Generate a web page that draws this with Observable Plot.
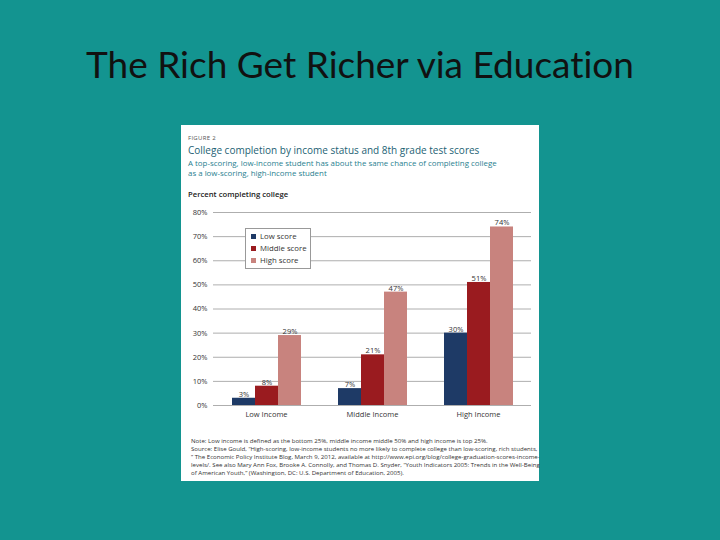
<!DOCTYPE html>
<html>
<head>
<meta charset="utf-8">
<script src="https://cdn.jsdelivr.net/npm/d3@7"></script>
<script src="https://cdn.jsdelivr.net/npm/@observablehq/plot@0.6"></script>
<style>
  html, body { margin: 0; padding: 0; }
  body { width: 720px; height: 540px; background: #139490; position: relative; overflow: hidden; font-family: "Open Sans", sans-serif; }
  .abs { position: absolute; white-space: nowrap; }
  #title { left: 0; width: 720px; text-align: center; top: 42px; font-family: Lato, sans-serif; font-size: 37px; line-height: 44px; color: #111; font-variant-ligatures: none; }
  #card { left: 181px; top: 125px; width: 358px; height: 356px; background: #fff; }
  .t { position: absolute; white-space: nowrap; line-height: 1; }
  #fig { left: 7px; top: 10px; font-size: 6px; color: #555; letter-spacing: 0.3px; }
  #head { left: 7px; top: 20px; font-size: 10px; color: #1d5f74; font-weight: 500; }
  .sub { left: 7px; font-size: 7.9px; color: #2a7f90; }
  #ylab { left: 7px; top: 66px; font-size: 7.7px; color: #222; font-weight: 600; }
  .note { left: 10px; font-size: 6.1px; color: #333; }
  #legend { position: absolute; left: 64px; top: 103px; width: 64px; height: 39px; border: 1px solid #999; background: #fff; }
  .li { position: absolute; left: 5px; font-size: 7.8px; color: #333; line-height: 1; white-space: nowrap; }
  .sw { display: inline-block; width: 5px; height: 5px; margin-right: 4px; vertical-align: 0px; }
  #plot { position: absolute; left: 0; top: 75px; }
</style>
</head>
<body>
<div id="title" class="abs">The Rich Get Richer via Education</div>
<div id="card" class="abs">
  <div id="fig" class="t">FIGURE 2</div>
  <div id="head" class="t">College completion by income status and 8th grade test scores</div>
  <div class="t sub" style="top:35px">A top-scoring, low-income student has about the same chance of completing college</div>
  <div class="t sub" style="top:45px">as a low-scoring, high-income student</div>
  <div id="ylab" class="t">Percent completing college</div>
  <div id="plot"></div>
  <div id="legend"></div>
  <div id="notes"></div>
</div>
<script>
const groups = ["Low Income", "Middle Income", "High Income"];
const scores = ["Low score", "Middle score", "High score"];
const lowScore = [3, 7, 30];
const middleScore = [8, 21, 51];
const highScore = [29, 47, 74];
const yTicks = [0, 10, 20, 30, 40, 50, 60, 70, 80];
const colors = ["#1e3a66", "#9a1b1f", "#c8837e"];
const noteLines = [
  "Note: Low income is defined as the bottom 25%, middle income middle 50% and high income is top 25%.",
  "Source: Elise Gould, \u201cHigh-scoring, low-income students no more likely to complete college than low-scoring, rich students,",
  "\u201d The Economic Policy Institute Blog, March 9, 2012, available at http://www.epi.org/blog/college-graduation-scores-income-",
  "levels/. See also Mary Ann Fox, Brooke A. Connolly, and Thomas D. Snyder, \u201cYouth Indicators 2005: Trends in the Well-Being",
  "of American Youth,\u201d (Washington, DC: U.S. Department of Education, 2005)."
];

const series = [lowScore, middleScore, highScore];
const data = [];
groups.forEach((g, i) => scores.forEach((s, j) => data.push({group: g, score: s, value: series[j][i]})));

const chart = Plot.plot({
  width: 358,
  height: 225,
  marginLeft: 31,
  marginRight: 7,
  marginTop: 12,
  marginBottom: 20,
  style: {fontFamily: "'Open Sans', sans-serif", fontSize: "7.5px", color: "#333", background: "transparent", overflow: "visible"},
  fx: {domain: groups, padding: 0, label: null},
  x: {domain: scores, paddingInner: 0, paddingOuter: 0.74, axis: null},
  y: {domain: [0, 80], label: null},
  color: {domain: scores, range: colors},
  marks: [
    Plot.gridY(yTicks, {stroke: "#999", strokeOpacity: 1, strokeWidth: 0.8}),
    Plot.axisY(yTicks, {tickSize: 0, tickPadding: 6, tickFormat: d => d + "%", label: null}),
    Plot.axisFx({anchor: "bottom", tickSize: 0, tickPadding: 6, label: null}),
    Plot.barY(data, {fx: "group", x: "score", y: "value", fill: "score"}),
    Plot.text(data, {fx: "group", x: "score", y: "value", text: d => d.value + "%", lineAnchor: "bottom", dy: -1.5, fill: "#333"})
  ]
});
document.getElementById("plot").appendChild(chart);

const legend = document.getElementById("legend");
scores.forEach((s, i) => {
  const el = document.createElement("div");
  el.className = "li";
  el.style.top = (4 + i * 12) + "px";
  el.innerHTML = `<span class="sw" style="background:${colors[i]}"></span>${s}`;
  legend.appendChild(el);
});

const notes = document.getElementById("notes");
noteLines.forEach((t, i) => {
  const el = document.createElement("div");
  el.className = "t note";
  el.style.top = (313 + i * 8) + "px";
  el.textContent = t;
  notes.appendChild(el);
});
</script>
</body>
</html>
